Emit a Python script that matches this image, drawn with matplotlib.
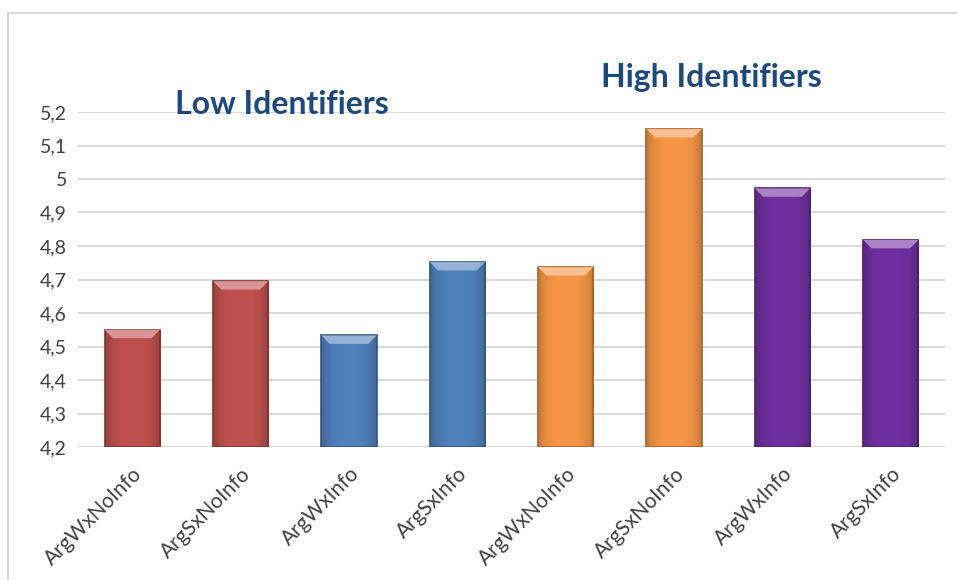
import numpy as np
import matplotlib.pyplot as plt
from matplotlib.patches import Rectangle, Polygon

plt.rcParams['font.family'] = ['Lato', 'DejaVu Sans']

labels = ['ArgWxNoInfo', 'ArgSxNoInfo', 'ArgWxInfo', 'ArgSxInfo',
          'ArgWxNoInfo', 'ArgSxNoInfo', 'ArgWxInfo', 'ArgSxInfo']
values = [4.55, 4.695, 4.533, 4.752, 4.737, 5.149, 4.972, 4.818]
colors = ['#C0504D', '#C0504D', '#4F81BD', '#4F81BD',
          '#F79646', '#F79646', '#7030A0', '#7030A0']
yticks = [4.2, 4.3, 4.4, 4.5, 4.6, 4.7, 4.8, 4.9, 5.0, 5.1, 5.2]
ytick_labels = ['4,2', '4,3', '4,4', '4,5', '4,6', '4,7', '4,8', '4,9', '5', '5,1', '5,2']

fig = plt.figure(figsize=(9.57, 5.8), dpi=100)
# outer chart frame
fig.patches.append(Rectangle((8 / 957, -0.1), 1.1, 1 - 13 / 580 + 0.1,
                             transform=fig.transFigure, fill=False,
                             edgecolor='#D9D9D9', lw=1.5))

ax = fig.add_axes([78 / 957, 1 - 447 / 580, 867 / 957, 335 / 580])
x = np.arange(len(values))
bars = ax.bar(x, values, width=0.51, bottom=0, color=colors, zorder=3)
ax.set_ylim(4.2, 5.2)
ax.set_xlim(-0.5, len(values) - 0.5)

# bevel-ish shading on each bar
for b, c in zip(bars, colors):
    x0, w, h = b.get_x(), b.get_width(), b.get_height()
    grad = np.linspace(0, 1, 50)
    shade = 1 - 0.2 * np.abs(grad - 0.5) ** 3 * 8
    base = np.array(plt.matplotlib.colors.to_rgb(c))
    img = np.clip(base[None, None, :] * shade[None, :, None], 0, 1)
    im = ax.imshow(img, extent=[x0, x0 + w, 4.2, h], aspect='auto', zorder=4)
    im.set_clip_path(b)
    dark = base * 0.65
    ax.add_patch(Rectangle((x0, 4.2), w, h - 4.2, fill=False, edgecolor=dark,
                           lw=1.2, zorder=5))
    light = np.clip(base + (1 - base) * 0.4, 0, 1)
    cap = 0.025
    ax.add_patch(Polygon([[x0, h], [x0 + w, h], [x0 + w * 0.85, h - cap],
                          [x0 + w * 0.15, h - cap]], closed=True,
                         facecolor=light, edgecolor='none', zorder=5))

ax.set_yticks(yticks)
ax.set_yticklabels(ytick_labels, fontsize=14, color='#404040')
ax.yaxis.grid(True, color='#D9D9D9', lw=1.5, zorder=0)
ax.tick_params(axis='both', length=0, pad=8)
ax.set_xticks(x)
ax.set_xticklabels(labels, rotation=45, ha='right', rotation_mode='anchor',
                   fontsize=15, color='#404040')
ax.tick_params(axis='x', pad=12)
for s in ax.spines.values():
    s.set_visible(False)

fig.text(282 / 957, 1 - 105 / 580, 'Low Identifiers', fontsize=23,
         fontweight='bold', color='#1F497D', ha='center', va='center')
fig.text(711 / 957, 1 - 77 / 580, 'High Identifiers', fontsize=23,
         fontweight='bold', color='#1F497D', ha='center', va='center')

fig.savefig('out.png', dpi=100)
